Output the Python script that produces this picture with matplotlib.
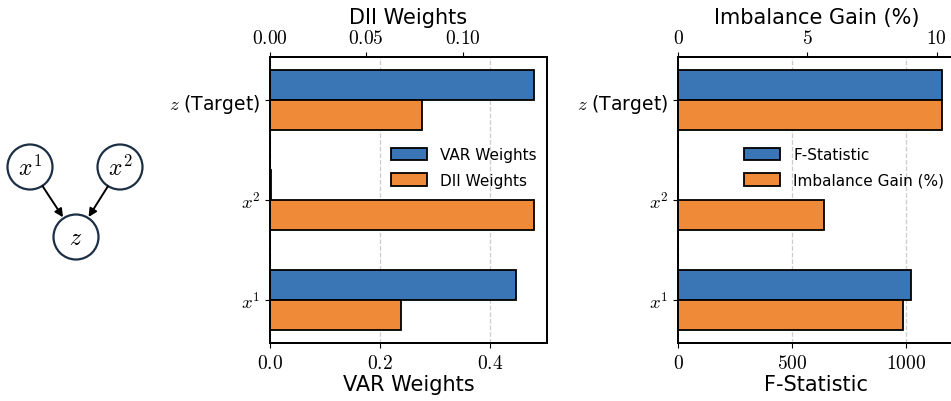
import numpy as np
import matplotlib.pyplot as plt
from matplotlib.patches import Circle

plt.rcParams['mathtext.fontset'] = 'cm'
plt.rcParams['font.family'] = 'DejaVu Sans'

categories = ['$x^1$', '$x^2$', '$z$ (Target)']
var_weights = [0.447, 0.001, 0.479]
dii_weights = [0.068, 0.137, 0.0787]
f_stat = [1024, 0, 1159]
imb_gain = [8.69, 5.63, 10.2]

blue = '#3a76b6'
orange = '#ee8a38'
h = 0.3


def tex_fmt(fmt):
    return plt.FuncFormatter(lambda v, p: '$' + fmt.format(v) + '$')


def panel(ax, bot_vals, top_vals, bot_label, top_label, bot_ticks, top_ticks,
          bot_fmt, top_fmt, leg_anchor):
    y = np.arange(len(categories))
    b = ax.barh(y + h / 2, bot_vals, height=h, color=blue, edgecolor='black',
                linewidth=1.3, label=bot_label)
    ax.set_xlim(0, max(bot_vals) * 1.05)
    ax.set_xticks(bot_ticks)
    ax.xaxis.set_major_formatter(tex_fmt(bot_fmt))
    ax.set_xlabel(bot_label, fontsize=15, labelpad=2)
    ax.grid(axis='x', linestyle='--', color='#cccccc', linewidth=0.9)
    ax.set_axisbelow(True)
    ax.set_yticks(y)
    ax.set_yticklabels(categories, fontsize=13.5)
    ax.set_ylim(-0.43, 2.43)

    ax2 = ax.twiny()
    t = ax2.barh(y - h / 2, top_vals, height=h, color=orange, edgecolor='black',
                 linewidth=1.3, label=top_label)
    ax2.set_xlim(0, max(top_vals) * 1.05)
    ax2.set_xticks(top_ticks)
    ax2.xaxis.set_major_formatter(tex_fmt(top_fmt))
    ax2.set_xlabel(top_label, fontsize=15, labelpad=4)
    for a in (ax, ax2):
        a.tick_params(axis='x', labelsize=14)
        for s in a.spines.values():
            s.set_linewidth(1.3)
    ax2.legend([b, t], [bot_label, top_label], loc='center right',
               bbox_to_anchor=leg_anchor, frameon=False, fontsize=11,
               handlelength=2.35, handleheight=0.85, handletextpad=0.85,
               labelspacing=0.7, borderaxespad=0.3)
    return ax2


fig = plt.figure(figsize=(9.51, 4.02), dpi=100)

# small causal graph on the left
axg = fig.add_axes([0, 0, 170 / 951, 1])
axg.set_xlim(0, 170)
axg.set_ylim(402, 0)
axg.axis('off')
nodes = {'$x^1$': (30, 168), '$x^2$': (120, 168), '$z$': (76, 238)}
for name, (cx, cy) in nodes.items():
    axg.add_patch(Circle((cx, cy), 22.5, facecolor='white', edgecolor='#1c2f44',
                         linewidth=1.6))
    axg.text(cx, cy, name, ha='center', va='center', fontsize=17)
for src in ['$x^1$', '$x^2$']:
    axg.annotate('', xy=nodes['$z$'], xytext=nodes[src],
                 arrowprops=dict(arrowstyle='-|>', color='black', lw=1.4,
                                 shrinkA=16.5, shrinkB=17, mutation_scale=12))

ax_l = fig.add_axes([270 / 951, 58 / 402, 277 / 951, 286 / 402])
panel(ax_l, var_weights, dii_weights, 'VAR Weights', 'DII Weights',
      [0.0, 0.2, 0.4], [0.0, 0.05, 0.10], '{:.1f}', '{:.2f}', (1.0, 0.614))

ax_r = fig.add_axes([678 / 951, 58 / 402, 277 / 951, 286 / 402])
panel(ax_r, f_stat, imb_gain, 'F-Statistic', 'Imbalance Gain (%)',
      [0, 500, 1000], [0, 5, 10], '{:.0f}', '{:.0f}', (1.0, 0.614))

fig.savefig('out.png', dpi=100)
